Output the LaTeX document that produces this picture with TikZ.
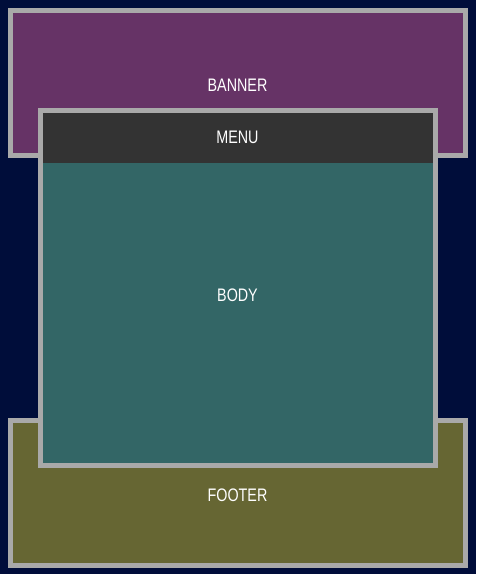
\documentclass[tikz,border=0pt]{standalone}
\usepackage{fontspec}
\setmainfont[FakeStretch=0.79]{Liberation Sans}
\definecolor{bgnavy}{HTML}{000D3A}
\definecolor{bannerc}{HTML}{663366}
\definecolor{menuc}{HTML}{333333}
\definecolor{bodyc}{HTML}{336666}
\definecolor{footerc}{HTML}{666633}
\definecolor{edgec}{HTML}{A9A9A9}
\tikzset{
  panel/.style={draw=edgec, line width=3.75pt},
  lbl/.style={text=white, font=\fontsize{13.6pt}{16pt}\selectfont, inner sep=0pt, anchor=center}
}
\begin{document}
\begin{tikzpicture}[x=0.75pt,y=-0.75pt]
  \fill[bgnavy] (0,0) rectangle (476,574);
  \useasboundingbox (0,0) rectangle (476,574);
  % banner
  \draw[panel, fill=bannerc] (10.5,10.5) rectangle (465.5,155.5);
  \node[lbl] (banner) at (237.5,85.5) {BANNER};
  % footer
  \draw[panel, fill=footerc] (10.5,420.5) rectangle (465.5,565.5);
  \node[lbl] (footer) at (237.5,495.5) {FOOTER};
  % body with menu
  \fill[bodyc] (40.5,110.5) rectangle (435.5,465.5);
  \fill[menuc] (40.5,110.5) rectangle (435.5,163);
  \draw[panel] (40.5,110.5) rectangle (435.5,465.5);
  \node[lbl] (menu) at (237.5,137.5) {MENU};
  \node[lbl] (body) at (237.5,295.5) {BODY};
\end{tikzpicture}
\end{document}
